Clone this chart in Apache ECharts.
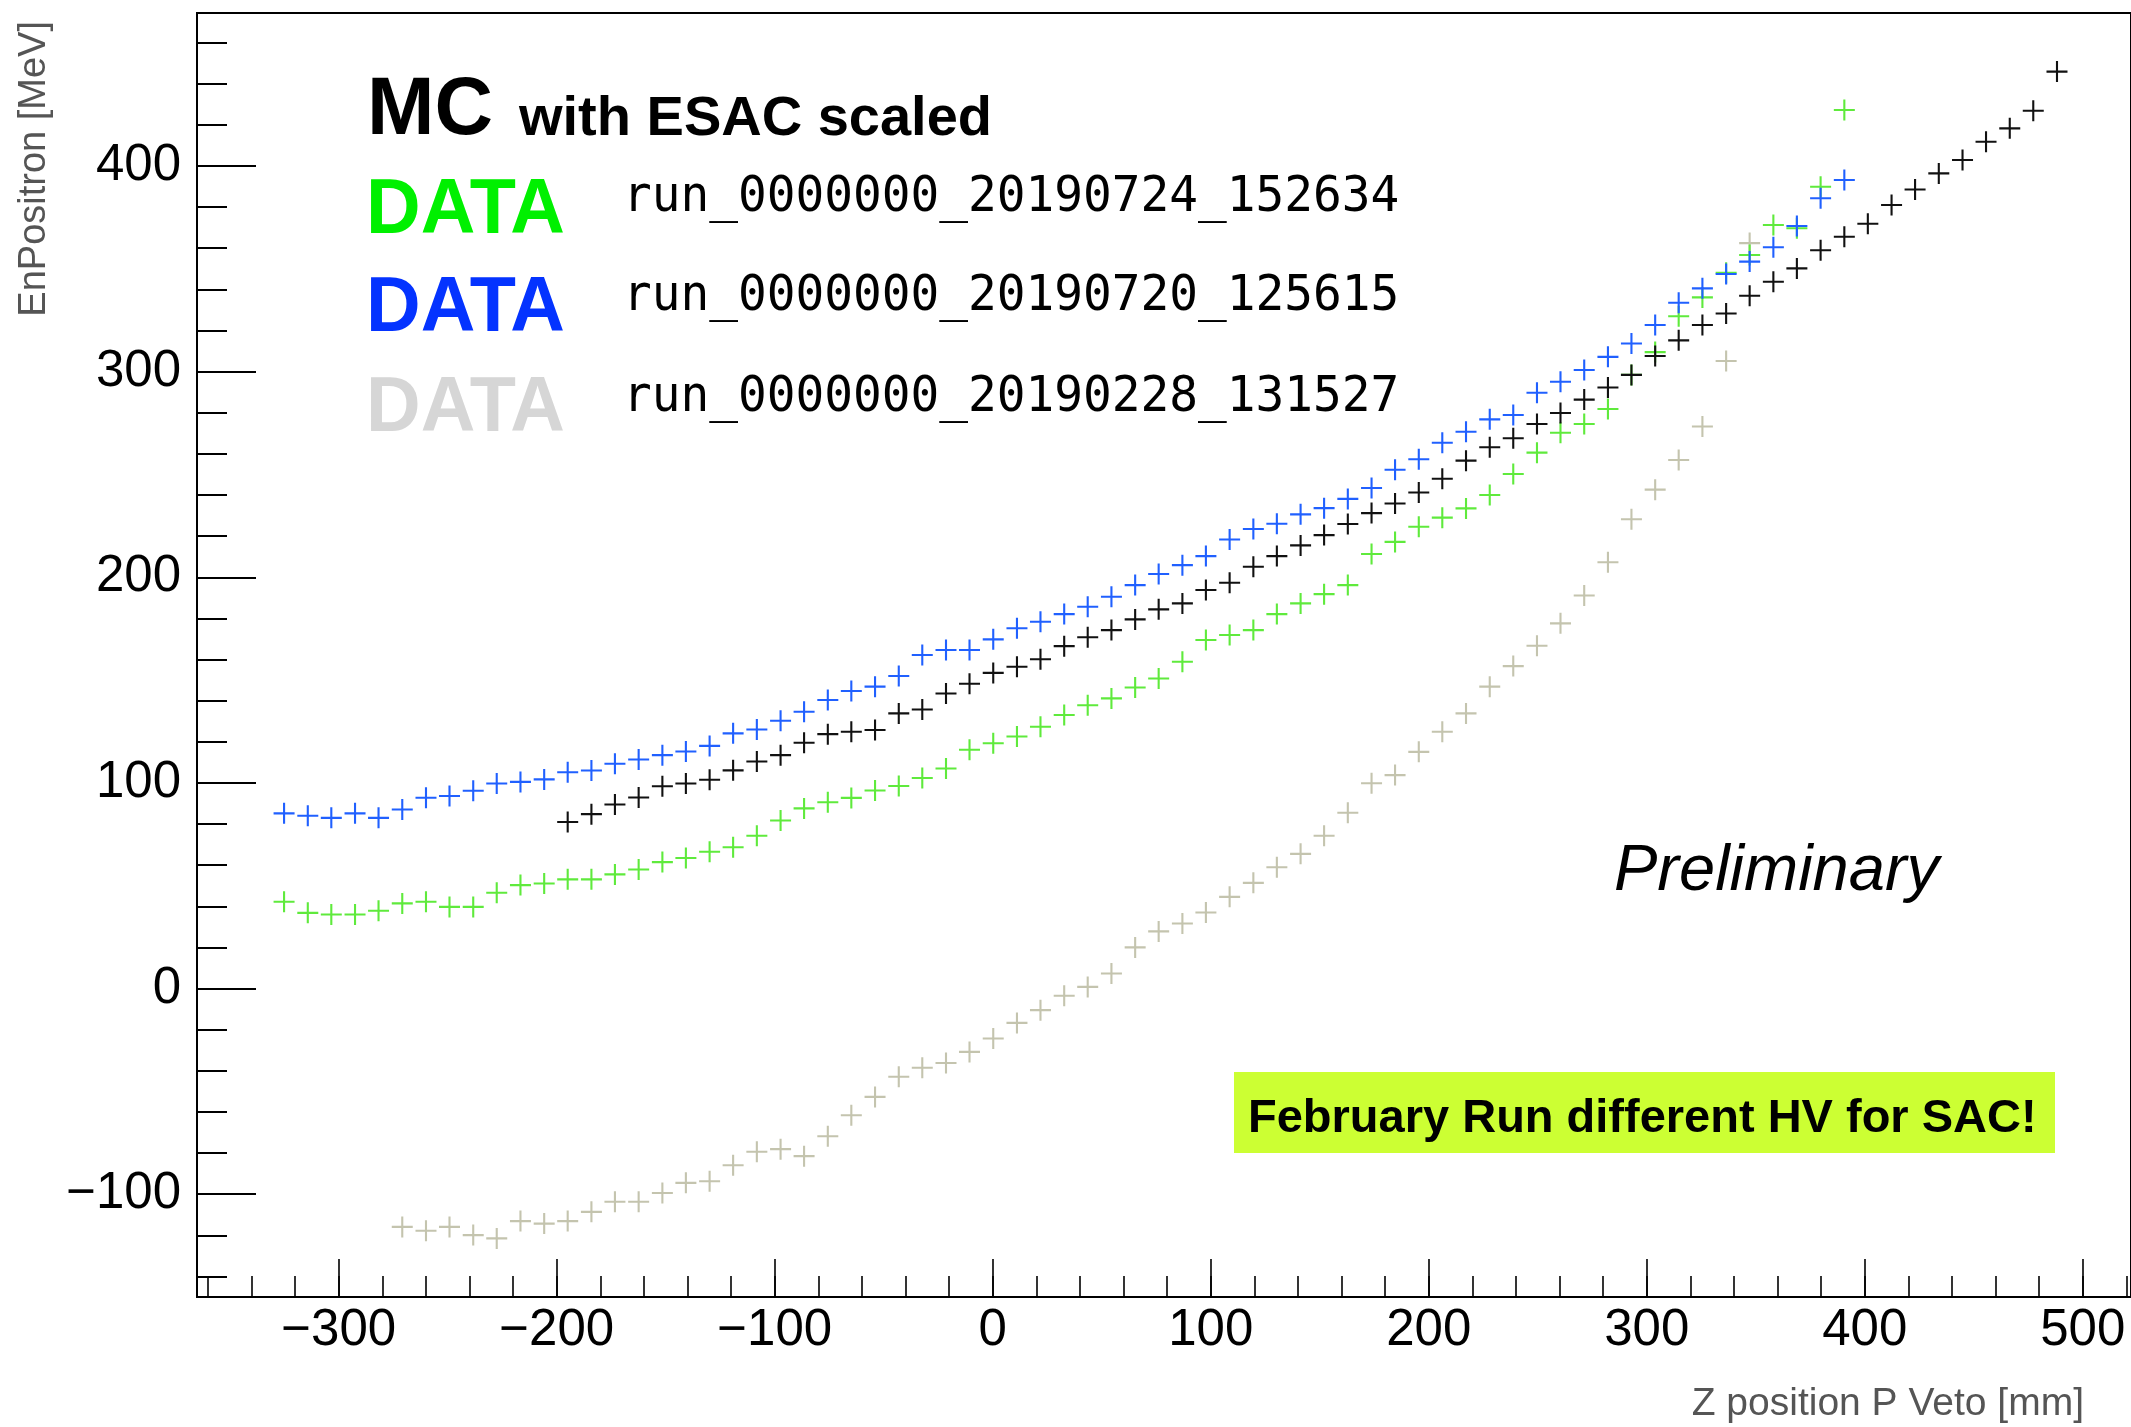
<!DOCTYPE html>
<html>
<head>
<meta charset="utf-8">
<title>EnPositron vs Z position P Veto</title>
<script src="https://cdn.jsdelivr.net/npm/echarts@6/dist/echarts.min.js"></script>
<style>
  html, body { margin: 0; padding: 0; background: #fff; }
  #chart { width: 2131px; height: 1427px; }
</style>
</head>
<body>
<div id="chart"></div>
<script>
// z position of each P Veto finger (mm)
const zPos = [
  -325.0, -314.1, -303.3, -292.4, -281.6, -270.7, -259.8, -249.0, -238.1, -227.3,
  -216.4, -205.5, -194.7, -183.8, -173.0, -162.1, -151.2, -140.4, -129.5, -118.7,
  -107.8, -96.9, -86.1, -75.2, -64.4, -53.5, -42.6, -31.8, -20.9, -10.1,
  0.8, 11.7, 22.5, 33.4, 44.2, 55.1, 66.0, 76.8, 87.7, 98.5,
  109.4, 120.3, 131.1, 142.0, 152.8, 163.7, 174.6, 185.4, 196.3, 207.1,
  218.0, 228.9, 239.7, 250.6, 261.4, 272.3, 283.2, 294.0, 304.9, 315.7,
  326.6, 337.5, 348.3, 359.2, 370.0, 380.9, 391.8, 402.6, 413.5, 424.3,
  435.2, 446.1, 456.9, 467.8, 478.6, 489.5
];

// run_0000000_20190720_125615 (blue), fingers 0..66
const blueStart = 0;
const blueE = [
  85.2, 84.0, 83.0, 85.2, 83.0, 87.1, 92.8, 93.6, 96.2, 99.7,
  100.5, 101.7, 105.2, 106.0, 109.3, 111.4, 113.5, 115.3, 118.0, 124.1,
  126.0, 130.2, 134.6, 140.3, 144.7, 146.8, 152.0, 162.2, 164.6, 164.6,
  169.8, 175.2, 178.4, 182.1, 185.7, 190.5, 196.2, 201.6, 205.9, 210.3,
  218.4, 223.5, 226.0, 230.6, 233.6, 238.1, 243.4, 252.3, 257.4, 265.4,
  270.8, 276.8, 278.9, 289.7, 295.1, 300.8, 307.2, 313.7, 322.7, 333.5,
  340.5, 347.5, 353.5, 360.5, 370.8, 384.3, 393.2
];

// run_0000000_20190724_152634 (green), fingers 0..66
const greenStart = 0;
const greenE = [
  42.2, 36.8, 36.0, 36.0, 37.8, 41.4, 42.2, 39.7, 39.7, 46.6,
  50.3, 51.1, 53.1, 53.1, 55.5, 57.9, 61.5, 63.5, 66.5, 68.7,
  74.3, 81.7, 87.6, 90.6, 92.7, 96.3, 98.5, 102.4, 107.0, 116.1,
  119.3, 122.6, 127.3, 133.0, 137.8, 141.1, 146.4, 150.8, 158.9, 169.5,
  171.9, 174.3, 182.1, 187.3, 191.8, 196.2, 211.3, 217.2, 224.6, 229.0,
  233.5, 240.0, 250.2, 260.6, 270.3, 274.5, 281.8, 298.4, 309.5, 326.9,
  336.1, 348.1, 356.7, 371.3, 369.7, 389.9, 427.2
];

// MC with ESAC scaled (black), fingers 12..75
const mcStart = 12;
const mcE = [
  81.0, 84.8, 89.5, 92.9, 98.4, 99.7, 101.5, 106.1, 110.4, 113.5,
  119.5, 123.7, 124.9, 125.7, 133.8, 135.7, 143.5, 148.2, 153.5, 156.5,
  160.1, 166.5, 170.8, 174.3, 179.5, 184.4, 187.3, 193.8, 197.3, 205.1,
  210.3, 215.5, 220.5, 225.9, 231.2, 235.9, 241.2, 247.9, 256.7, 263.2,
  267.6, 274.5, 279.9, 286.4, 292.3, 298.4, 307.6, 315.2, 322.7, 328.3,
  336.9, 343.7, 350.2, 359.0, 365.6, 371.9, 381.0, 388.6, 396.4, 402.9,
  411.8, 418.3, 426.9, 445.9
];

// run_0000000_20190228_131527 (grey), fingers 5..62
const febStart = 5;
const febE = [
  -115.9, -117.8, -115.9, -119.9, -121.5, -113.1, -114.3, -113.1, -108.6, -103.7,
  -103.7, -99.4, -94.5, -93.7, -85.9, -79.4, -78.1, -81.5, -71.8, -61.6,
  -52.7, -42.9, -38.5, -36.2, -30.8, -24.3, -16.7, -10.5, -3.5, 0.8,
  7.3, 20.0, 27.8, 31.6, 37.0, 44.6, 51.4, 59.0, 65.5, 74.3,
  85.5, 99.8, 103.8, 115.1, 124.9, 133.8, 146.8, 156.8, 166.7, 177.6,
  191.1, 207.3, 228.2, 242.6, 257.0, 273.3, 305.2, 362.5
];

const runNames = ['run_0000000_20190724_152634', 'run_0000000_20190720_125615', 'run_0000000_20190228_131527'];

// plot frame (px) and the value window it shows
const frame = { left: 197, top: 13, right: 2134, bottom: 1297 };
const xWin = [-365, 523.5];
const yWin = [-150, 474.4];

function xPx(v) { return frame.left + (v - xWin[0]) / (xWin[1] - xWin[0]) * (frame.right - frame.left); }
function yPx(v) { return frame.bottom - (v - yWin[0]) / (yWin[1] - yWin[0]) * (frame.bottom - frame.top); }
function pts(start, vals) { return vals.map((v, k) => [zPos[start + k], v]); }

const plus = 'path://M9,0H11V9H20V11H11V20H9V11H0V9H9Z';
const sans = 'Liberation Sans';
const minus = v => String(v).replace('-', '\u2212');
const hidden = i => ({ gridIndex: i, type: 'value', show: false, min: 0, max: 1 });

function tickAxis(i, min, max, step, len, width, label) {
  return {
    gridIndex: i, type: 'value', min: min, max: max, interval: step,
    axisLine: { show: false, onZero: false },
    axisTick: { show: true, inside: true, length: len, lineStyle: { color: '#000', width: width } },
    splitLine: { show: false },
    axisLabel: label ? Object.assign({ show: true, color: '#000', fontFamily: sans, fontSize: 51,
      showMinLabel: true, showMaxLabel: true, formatter: minus }, label) : { show: false }
  };
}

function scatter(name, data, color, z) {
  return {
    name: name, type: 'scatter', xAxisIndex: 0, yAxisIndex: 0,
    data: data, symbol: plus, symbolSize: 21, z: z, silent: true,
    itemStyle: { color: color, opacity: 1 }
  };
}

function txt(x, y, text, font, fill, extra) {
  return Object.assign({ type: 'text', x: x, y: y, silent: true,
    style: { text: text, font: font, fill: fill, align: 'left', verticalAlign: 'middle' } }, extra || {});
}

const chart = echarts.init(document.getElementById('chart'));

const option = {
  backgroundColor: '#fff',
  animation: false,
  grid: [
    { left: frame.left, top: frame.top, width: frame.right - frame.left, height: frame.bottom - frame.top,
      show: true, borderColor: '#000', borderWidth: 2 },
    { left: xPx(-360), width: xPx(520) - xPx(-360), top: frame.top, height: frame.bottom - frame.top },
    { left: xPx(-300), width: xPx(500) - xPx(-300), top: frame.top, height: frame.bottom - frame.top },
    { left: frame.left, width: frame.right - frame.left, top: yPx(460), height: yPx(-140) - yPx(460) },
    { left: frame.left, width: frame.right - frame.left, top: yPx(400), height: yPx(-100) - yPx(400) }
  ],
  xAxis: [
    { gridIndex: 0, type: 'value', show: false, min: xWin[0], max: xWin[1] },
    tickAxis(1, -360, 520, 20, 21, 1.6, null),
    tickAxis(2, -300, 500, 100, 38, 1.6, { margin: 8 }),
    hidden(3),
    hidden(4)
  ],
  yAxis: [
    { gridIndex: 0, type: 'value', show: false, min: yWin[0], max: yWin[1] },
    hidden(1),
    hidden(2),
    tickAxis(3, -140, 460, 20, 30, 2, null),
    tickAxis(4, -100, 400, 100, 59, 2, { margin: 16 })
  ],
  series: [
    scatter('DATA 20190228', pts(febStart, febE), '#c4c4ae', 2),
    scatter('DATA 20190724', pts(greenStart, greenE), '#5fea3c', 3),
    scatter('MC', pts(mcStart, mcE), '#111', 4),
    scatter('DATA 20190720', pts(blueStart, blueE), '#2060ff', 5)
  ],
  graphic: {
    elements: [
      txt(367, 112, 'MC', 'bold 81px "Liberation Sans"', '#000'),
      txt(519, 120, 'with ESAC scaled', 'bold 56px "Liberation Sans"', '#000'),
      txt(366, 211, 'DATA', 'bold 78px "Liberation Sans"', '#00f000', { scaleX: 0.97 }),
      txt(366, 309, 'DATA', 'bold 78px "Liberation Sans"', '#0433ff', { scaleX: 0.97 }),
      txt(366, 409, 'DATA', 'bold 78px "Liberation Sans"', '#d6d6d6', { scaleX: 0.97 }),
      txt(623, 198, runNames[0], '50px "DejaVu Sans Mono"', '#000', { scaleX: 0.955 }),
      txt(623, 297, runNames[1], '50px "DejaVu Sans Mono"', '#000', { scaleX: 0.955 }),
      txt(623, 398, runNames[2], '50px "DejaVu Sans Mono"', '#000', { scaleX: 0.955 }),
      txt(1614, 872, 'Preliminary', 'italic 65px "Liberation Sans"', '#000'),
      { type: 'rect', silent: true, shape: { x: 1234, y: 1072, width: 821, height: 81 },
        style: { fill: '#ccff33' } },
      txt(1248, 1119, 'February Run different HV for SAC!', 'bold 47px "Liberation Sans"', '#000'),
      txt(35, 21, 'EnPositron [MeV]', '38px "Liberation Sans"', '#555',
        { rotation: Math.PI / 2, style: { text: 'EnPositron [MeV]', font: '38px "Liberation Sans"',
          fill: '#555', align: 'right', verticalAlign: 'middle' } }),
      txt(2084, 1404, 'Z position P Veto [mm]', '39px "Liberation Sans"', '#555',
        { style: { text: 'Z position P Veto [mm]', font: '39px "Liberation Sans"',
          fill: '#555', align: 'right', verticalAlign: 'middle' } })
    ]
  }
};

chart.setOption(option);
</script>
</body>
</html>
